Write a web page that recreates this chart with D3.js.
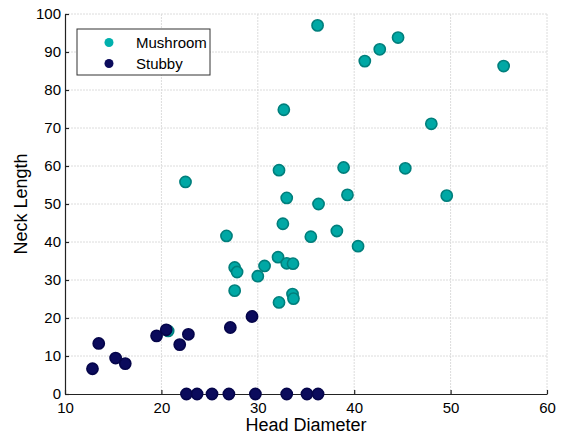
<!DOCTYPE html>
<html>
<head>
<meta charset="utf-8">
<script src="https://cdn.jsdelivr.net/npm/d3@7"></script>
<style>
  body { margin: 0; background: #fff; }
  svg { font-family: "Liberation Sans", Arial, sans-serif; }
</style>
</head>
<body>
<svg id="chart" width="566" height="435"></svg>
<script>
// Mushroom spines: head diameter / neck length
var mushroomHead = [22.5, 36.2, 41.1, 42.65, 44.55, 55.5, 32.7, 48.0, 32.2, 38.9, 45.3, 33.0,
                    39.3, 49.6, 36.3, 32.6, 35.5, 38.2, 40.4, 26.75, 32.1, 33.0, 33.65, 27.6,
                    27.85, 30.7, 30.0, 27.6, 33.6, 33.7, 32.2, 20.7];
var mushroomNeck = [55.8, 97.0, 87.6, 90.7, 93.8, 86.3, 74.8, 71.1, 58.9, 59.6, 59.4, 51.6,
                    52.4, 52.2, 50.0, 44.8, 41.4, 42.9, 38.9, 41.6, 36.0, 34.4, 34.3, 33.3,
                    32.1, 33.7, 31.0, 27.2, 26.3, 25.1, 24.1, 16.6];

// Stubby spines
var stubbyHead = [12.85, 13.5, 15.25, 16.25, 19.5, 20.5, 21.9, 22.8, 27.15, 29.4,
                  22.6, 23.7, 25.25, 27.0, 29.75, 33.0, 35.1, 36.25];
var stubbyNeck = [6.65, 13.3, 9.45, 8.0, 15.3, 16.9, 13.0, 15.7, 17.5, 20.4,
                  0, 0, 0, 0, 0, 0, 0, 0];

var xTicks = [10, 20, 30, 40, 50, 60];
var yTicks = [0, 10, 20, 30, 40, 50, 60, 70, 80, 90, 100];

var series = [
    {name: "Mushroom", head: mushroomHead, neck: mushroomNeck, fill: "#00a8a5", stroke: "#007f7c", legend: "#00b0ad"},
    {name: "Stubby", head: stubbyHead, neck: stubbyNeck, fill: "#0b0b5c", stroke: "#05054a", legend: "#0b0b5c"}
];

var margin = {left: 65, right: 19, top: 14, bottom: 41};
var width = 566 - margin.left - margin.right;
var height = 435 - margin.top - margin.bottom;

var svg = d3.select("#chart");
var g = svg.append("g")
    .attr("transform", "translate(" + margin.left + "," + margin.top + ")");

var x = d3.scaleLinear().domain([10, 60]).range([0, width]);
var y = d3.scaleLinear().domain([0, 100]).range([height, 0]);

// Grid lines (light, dotted)
g.append("g").selectAll("line").data(xTicks.slice(1)).enter().append("line")
    .attr("x1", function(d) { return x(d); })
    .attr("x2", function(d) { return x(d); })
    .attr("y1", 0).attr("y2", height)
    .attr("stroke", "#dcdcdc").attr("stroke-width", 1)
    .attr("stroke-dasharray", "2,1");
g.append("g").selectAll("line").data(yTicks.slice(1)).enter().append("line")
    .attr("x1", 0).attr("x2", width)
    .attr("y1", function(d) { return y(d); })
    .attr("y2", function(d) { return y(d); })
    .attr("stroke", "#dcdcdc").attr("stroke-width", 1)
    .attr("stroke-dasharray", "2,1");

// Axes with inward ticks
var xAxis = g.append("g")
    .attr("transform", "translate(0," + height + ")")
    .call(d3.axisBottom(x).tickValues(xTicks).tickSizeInner(-4).tickSizeOuter(0).tickPadding(8));
var yAxis = g.append("g")
    .call(d3.axisLeft(y).tickValues(yTicks).tickSizeInner(-4).tickSizeOuter(0).tickPadding(4));

[xAxis, yAxis].forEach(function(a) {
    a.select(".domain").attr("stroke", "#222").attr("stroke-width", 1.2);
    a.selectAll(".tick line").attr("stroke", "#222").attr("stroke-width", 1.2);
    a.selectAll(".tick text")
        .attr("font-size", 15)
        .attr("font-family", "Liberation Sans, Arial, sans-serif")
        .attr("fill", "#000");
});

// Points
series.forEach(function(s) {
    var pts = s.head.map(function(h, i) { return {h: h, n: s.neck[i]}; });
    g.append("g").selectAll("circle").data(pts).enter().append("circle")
        .attr("cx", function(d) { return x(d.h); })
        .attr("cy", function(d) { return y(d.n); })
        .attr("r", 5.6)
        .attr("fill", s.fill)
        .attr("stroke", s.stroke)
        .attr("stroke-width", 1.6);
});

// Axis titles
svg.append("text")
    .attr("x", margin.left + width / 2)
    .attr("y", 431)
    .attr("text-anchor", "middle")
    .attr("font-size", 18)
    .text("Head Diameter");
svg.append("text")
    .attr("transform", "translate(27," + (margin.top + height / 2) + ") rotate(-90)")
    .attr("text-anchor", "middle")
    .attr("font-size", 18)
    .text("Neck Length");

// Legend
var legend = svg.append("g").attr("transform", "translate(77,29)");
legend.append("rect")
    .attr("width", 133).attr("height", 46)
    .attr("fill", "#fff").attr("stroke", "#333").attr("stroke-width", 1);
series.forEach(function(s, i) {
    legend.append("circle")
        .attr("cx", 32).attr("cy", 13.5 + i * 21)
        .attr("r", 4.5).attr("fill", s.legend);
    legend.append("text")
        .attr("x", 59).attr("y", 18.5 + i * 21)
        .attr("font-size", 15)
        .text(s.name);
});
</script>
</body>
</html>
